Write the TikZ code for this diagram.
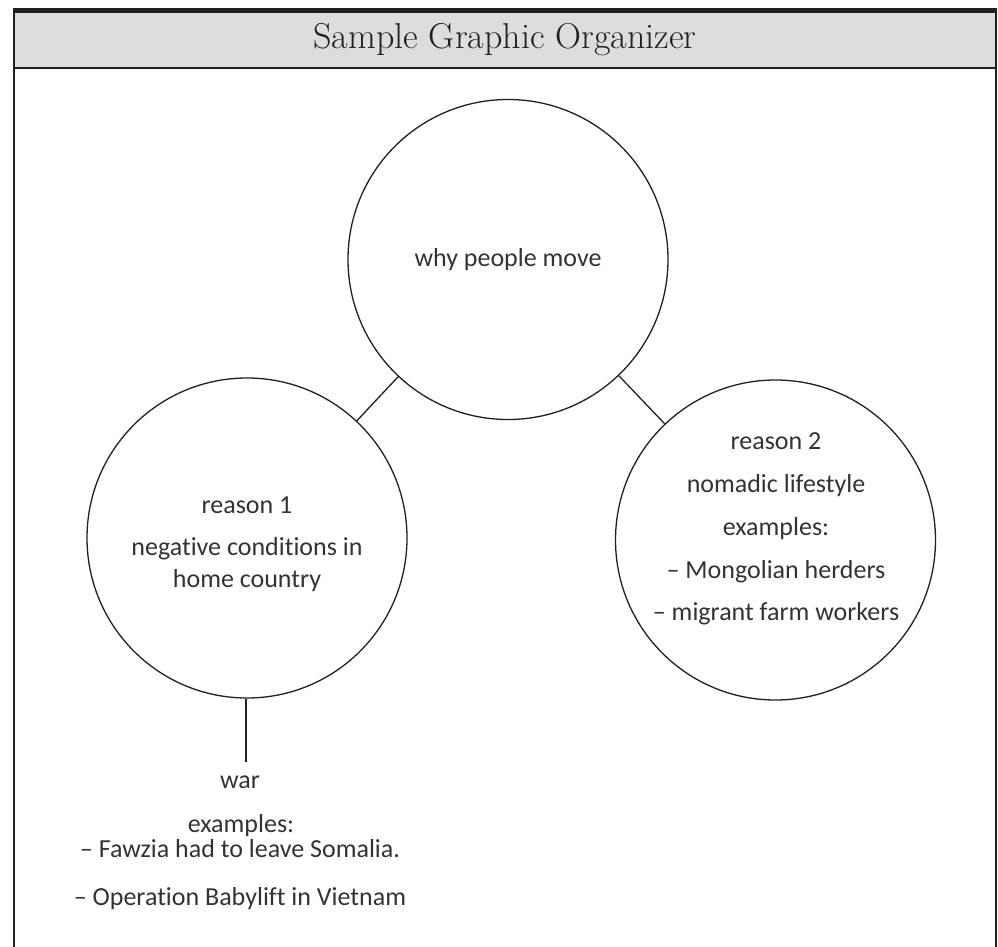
\documentclass[tikz,border=0pt]{standalone}
\usepackage{fontspec}
\newfontfamily\hand[Ligatures={NoCommon,TeX}]{Carlito}
\definecolor{ink}{HTML}{231F20}
\definecolor{txt}{HTML}{333333}
\definecolor{hdr}{HTML}{DCDDDF}
\begin{document}
\begin{tikzpicture}[x=1pt,y=-1pt,
  circ/.style={draw=ink,line width=1.3pt,circle,minimum size=320pt,inner sep=0pt},
  lbl/.style={anchor=base,inner sep=0pt,text=txt,font=\hand\fontsize{26}{30}\selectfont},
  link/.style={draw=ink,line width=1.3pt}]
\useasboundingbox (0,0) rectangle (998,947);
\fill[white] (0,0) rectangle (998,947);
% header
\fill[hdr] (14,13) rectangle (996,68);
\fill[ink] (13,8) rectangle (997,13);
\draw[ink,line width=2pt] (14,68) -- (996,68);
\draw[ink,line width=2pt] (14,8) -- (14,947);
\draw[ink,line width=2pt] (996,8) -- (996,947);
\node[anchor=base,inner sep=0pt,text=ink,font=\fontsize{36}{40}\selectfont] (title) at (505,49) {Sample Graphic Organizer};
% circles
\node[circ] (c) at (508,259.5) {};
\node[circ] (l) at (247,538) {};
\node[circ] (r) at (775.5,540) {};
\draw[link] (c) -- (l);
\draw[link] (c) -- (r);
\coordinate (w) at (246,762);
\draw[link] (l.south -| w) -- (w);
% texts
\node[lbl] (t0) at (508,266) {why people move};
\node[lbl] (t1) at (247,513) {reason 1};
\node[lbl] (t2) at (247,555) {negative conditions in};
\node[lbl] (t3) at (247,587) {home country};
\node[lbl] (r1) at (776,449) {reason 2};
\node[lbl] (r2) at (776,492) {nomadic lifestyle};
\node[lbl] (r3) at (776,535) {examples:};
\node[lbl] (r4) at (776,578) {– Mongolian herders};
\node[lbl] (r5) at (776,620) {– migrant farm workers};
\node[lbl] (b1) at (240,788) {war};
\node[lbl] (b2) at (241,832) {examples:};
\node[lbl] (b3) at (240,857) {– Fawzia had to leave Somalia.};
\node[lbl] (b4) at (240,905) {– Operation Babylift in Vietnam};
\end{tikzpicture}
\end{document}
